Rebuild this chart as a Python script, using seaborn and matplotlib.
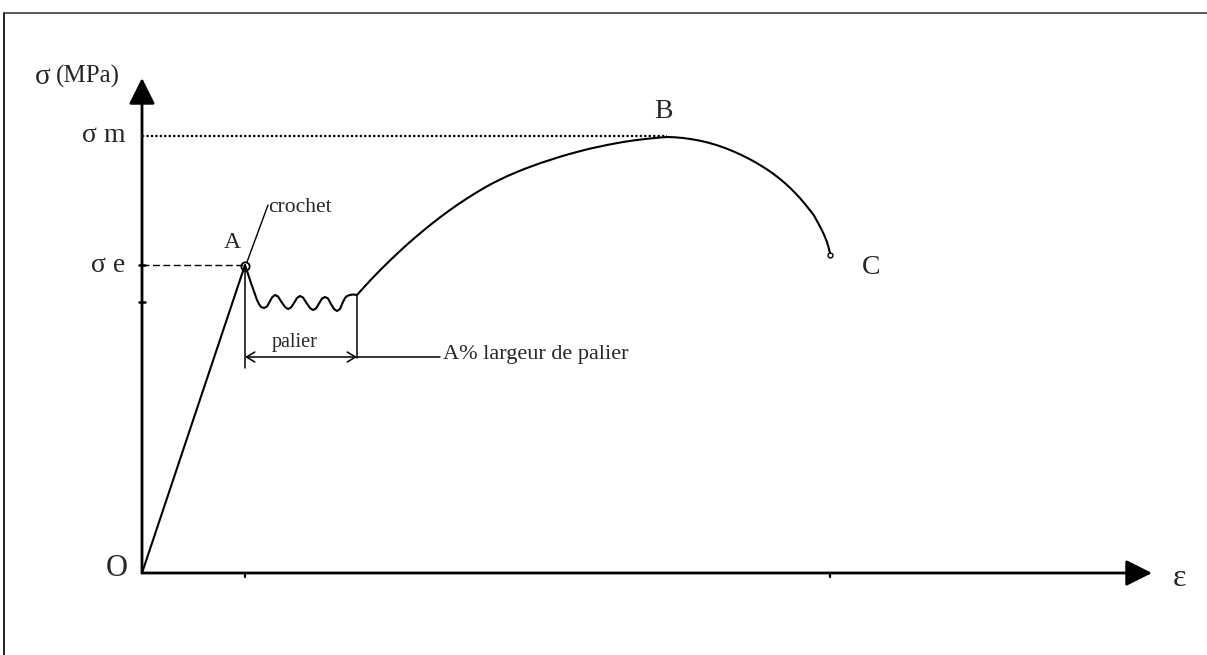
import matplotlib
matplotlib.use("Agg")
import matplotlib.pyplot as plt
import seaborn as sns
import pandas as pd

# Stress-strain curve of a mild steel (arbitrary units: ε to the right, σ upward)
eps_elastic = [0, 103]
sig_elastic = [0, 308]

eps_crochet = [103, 109, 115]
sig_crochet = [308, 290, 273]

eps_palier = [115, 117, 119, 122, 125, 127.5, 130, 133, 136, 139.5, 143, 146, 149,
              152, 155, 158, 161, 164.5, 168, 171, 174, 177, 180, 183, 186, 189,
              192, 195, 198, 200.5, 203, 205, 208, 211, 215]
sig_palier = [273, 269, 266, 265, 266.5, 271, 275.5, 278, 276.5, 271, 266, 264, 265.5,
              270, 275, 277, 275.5, 270, 265, 263, 264.5, 269.5, 274.5, 276, 274.5, 269,
              264, 262, 264, 270, 275, 277, 278, 278.5, 278]

eps_hard = [215, 221, 228, 234, 241, 249, 258, 266, 275, 283, 291, 299, 308, 316,
            325, 333, 341, 349, 358, 366, 375, 383, 391, 399, 408, 416, 425, 433,
            441, 449, 458, 466, 475, 483, 491, 499, 508, 516, 525, 533, 541, 549,
            558, 566, 575, 583, 591, 599, 608, 616, 625, 632, 638, 643, 648, 653,
            658, 663, 668, 672, 675, 678, 681, 683, 685, 687, 688]
sig_hard = [278, 284.7, 292.3, 298.6, 305.7, 313.5, 322, 329.3, 337.1, 343.8,
            350.2, 356.4, 363, 368.6, 374.6, 379.6, 384.4, 388.9, 393.4, 397.2,
            401, 404.3, 407.2, 410.1, 413, 415.6, 418.3, 420.5, 422.6, 424.6,
            426.5, 428.2, 429.9, 431.3, 432.5, 433.5, 434.5, 435.3, 436, 435.7,
            435, 433.9, 432.3, 430.4, 427.8, 425, 421.8, 418.2, 413.7, 409.2,
            403.6, 398.7, 394, 389.8, 385.2, 380.2, 374.8, 369, 362.7, 357.5,
            352, 346.5, 340.5, 336, 331, 324, 320]

sigma_e = 308          # yield stress (point A)
sigma_m = 437          # ultimate stress (point B)
eps_A = 103
eps_B = 521
eps_palier_end = 215
eps_C = 688
sig_extra_tick = 271
eps_axis_end = 1010
sig_axis_end = 495

point_labels = ["O", "A", "B", "C"]

sns.set_theme(style="white")
plt.rcParams["font.family"] = ["Liberation Serif", "DejaVu Sans"]

fig = plt.figure(figsize=(12.07, 6.55), dpi=100)
ax = fig.add_axes([0, 0, 1, 1])
ax.set_xlim(-142, 1065)
ax.set_ylim(-82, 573)
ax.axis("off")

# page frame
ax.plot([-139, 1065], [560.5, 560.5], color="#4a4a4a", lw=1.3, solid_capstyle="butt")
ax.plot([-138, -138], [560.5, -82], color="black", lw=1.2, solid_capstyle="butt")

# axes with arrowheads
arrow_kw = dict(arrowstyle="-|>,head_length=1.6,head_width=0.8", color="black",
                lw=2.0, mutation_scale=10, shrinkA=0, shrinkB=0)
ax.annotate("", xy=(0, sig_axis_end), xytext=(0, 0), arrowprops=arrow_kw)
ax.annotate("", xy=(eps_axis_end, 0), xytext=(0, 0), arrowprops=arrow_kw)

# curve
curve = pd.DataFrame({
    "eps": eps_elastic + eps_crochet[1:] + eps_palier[1:] + eps_hard[1:],
    "sig": sig_elastic + sig_crochet[1:] + sig_palier[1:] + sig_hard[1:],
})
sns.lineplot(data=curve, x="eps", y="sig", sort=False, estimator=None,
             color="black", lw=1.5, ax=ax)
ax.lines[-1].set_solid_joinstyle("round")

# small circles at A and C
ax.plot([eps_A], [sigma_e - 1], marker="o", ms=6, mfc="none", mec="black", mew=1.3)
ax.plot([eps_C], [sig_hard[-1] - 2], marker="o", ms=3.5, mfc="none", mec="black", mew=1.0)

# reference levels
ax.plot([0, eps_B + 4], [sigma_m, sigma_m], color="black", lw=1.6, ls=(0, (1, 1)))
ax.plot([0, eps_A], [sigma_e, sigma_e], color="black", lw=1.0, ls=(0, (5, 2.5)))

# ticks
for s in [sigma_e, sig_extra_tick]:
    ax.plot([-3, 3], [s, s], color="black", lw=1.8)
for e in [eps_A, eps_C]:
    ax.plot([e, e], [0, -4], color="black", lw=1.6)

# palier width annotation
ax.plot([eps_A, eps_A], [sigma_e, 205], color="black", lw=1.1)
ax.plot([eps_palier_end, eps_palier_end], [278, 215], color="black", lw=1.1)
ax.annotate("", xy=(eps_A, 216), xytext=(eps_palier_end, 216),
            arrowprops=dict(arrowstyle="<->,head_length=0.5,head_width=0.3",
                            color="black", lw=1.1, shrinkA=0, shrinkB=0))
ax.plot([eps_palier_end, 298], [216, 216], color="black", lw=1.1)
ax.text(153, 231, "palier", fontsize=14.5, ha="center", va="center")
ax.text(301, 219, "A% largeur de palier", fontsize=16, ha="left", va="center")

# crochet leader
ax.plot([105, 126], [311, 368], color="black", lw=1.0)
ax.text(126, 366, "crochet", fontsize=15.5, ha="left", va="center")

# axis labels
ax.text(-107, 496, "σ", fontsize=21, ha="left", va="center")
ax.text(-86, 497, "(MPa)", fontsize=18, ha="left", va="center")
ax.text(1038, -6, "ε", fontsize=23, ha="center", va="center")
ax.text(-38, 438, "σ m", fontsize=20, ha="center", va="center")
ax.text(-34, 308, "σ e", fontsize=20, ha="center", va="center")

# point labels
ax.text(-25, 5, point_labels[0], fontsize=22, ha="center", va="center")
ax.text(90, 330, point_labels[1], fontsize=17, ha="center", va="center")
ax.text(521, 462, point_labels[2], fontsize=20, ha="center", va="center")
ax.text(729, 306, point_labels[3], fontsize=20, ha="center", va="center")

fig.savefig("out.png", dpi=100)
